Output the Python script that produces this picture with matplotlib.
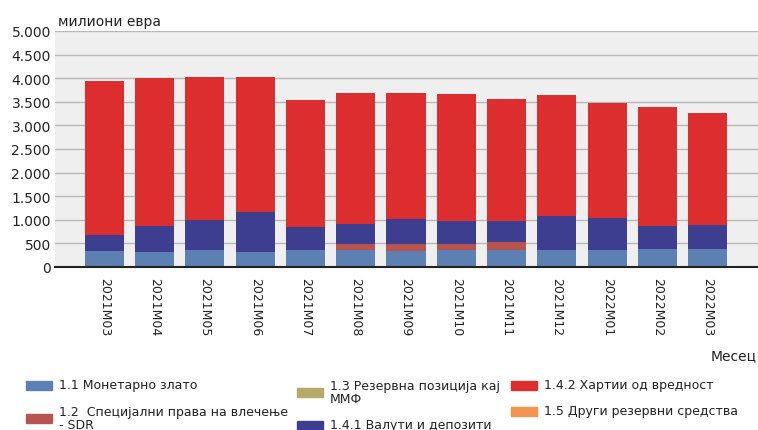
import matplotlib
matplotlib.use("Agg")
from matplotlib import pyplot as plt
from matplotlib.patches import Rectangle

months = ["2021M03", "2021M04", "2021M05", "2021M06", "2021M07", "2021M08", "2021M09",
          "2021M10", "2021M11", "2021M12", "2022M01", "2022M02", "2022M03"]

# милиони евра
gold = [331, 318, 352, 318, 352, 352, 331, 352, 352, 352, 352, 373, 373]
sdr = [5, 5, 5, 5, 5, 142, 163, 142, 170, 5, 5, 5, 5]
imf = [1, 1, 1, 1, 1, 1, 1, 1, 1, 1, 1, 1, 1]
currency = [349, 537, 631, 834, 482, 424, 523, 487, 459, 731, 688, 482, 504]
securities = [3248, 3145, 3045, 2876, 2706, 2769, 2662, 2677, 2586, 2549, 2422, 2537, 2388]
other = [0, 0, 0, 0, 0, 0, 0, 0, 0, 0, 0, 0, 0]

series = [
    ("1.1 Монетарно злато", gold, "#5b80b1"),
    ("1.2  Специјални права на влечење\n- SDR", sdr, "#b85450"),
    ("1.3 Резервна позиција кај\nММФ", imf, "#b5a96a"),
    ("1.4.1 Валути и депозити", currency, "#3e3e90"),
    ("1.4.2 Хартии од вредност", securities, "#dc2e2e"),
    ("1.5 Други резервни средства", other, "#f5944f"),
]

W, H = 758, 431
fig = plt.figure(figsize=(W / 100, H / 100), dpi=100)
ax = fig.add_axes([55 / W, (H - 268) / H, (W - 55) / W, 236 / H])
ax.set_facecolor("#efefef")

x = list(range(len(months)))
bottom = [0] * len(months)
for label, vals, color in series:
    ax.bar(x, vals, width=0.78, bottom=bottom, color=color, label=label, zorder=2)
    bottom = [b + v for b, v in zip(bottom, vals)]

ax.set_xlim(-0.98, 13.0)
ax.set_ylim(0, 5000)
ax.set_yticks(range(0, 5001, 500))
ax.set_yticklabels([f"{v:,}".replace(",", ".") for v in range(0, 5001, 500)], fontsize=10, color="#222222")
ax.set_xticks(x)
ax.set_xticklabels(months, rotation=270, fontsize=9, color="#222222")
ax.tick_params(axis="both", length=0)
ax.tick_params(axis="x", pad=7)
ax.tick_params(axis="y", pad=3)
ax.grid(axis="y", color="#b8b8b8", linewidth=1, zorder=1)
for s in ["left", "right", "top"]:
    ax.spines[s].set_visible(False)
ax.spines["bottom"].set_linewidth(1.5)
ax.spines["bottom"].set_color("#222222")
ax.spines["bottom"].set_zorder(3)

fig.text(58 / W, 1 - 22 / H, "милиони евра", fontsize=10, va="center", ha="left", color="#222222")
fig.text(757 / W, 1 - 356 / H, "Месец", fontsize=10, va="center", ha="right", color="#222222")

# legend laid out like the original: three columns
slots = [(26, 386), (26, 419), (297, 393), (297, 426), (511, 386), (511, 412)]
for (label, vals, color), (px, py) in zip(series, slots):
    fig.patches.append(Rectangle((px / W, 1 - (py + 4.5) / H), 26 / W, 9 / H,
                                 transform=fig.transFigure, color=color))
    fig.text((px + 33) / W, 1 - py / H, label, fontsize=9, va="center", ha="left",
             color="#222222", linespacing=1.05)

fig.savefig("out.png", dpi=100)
